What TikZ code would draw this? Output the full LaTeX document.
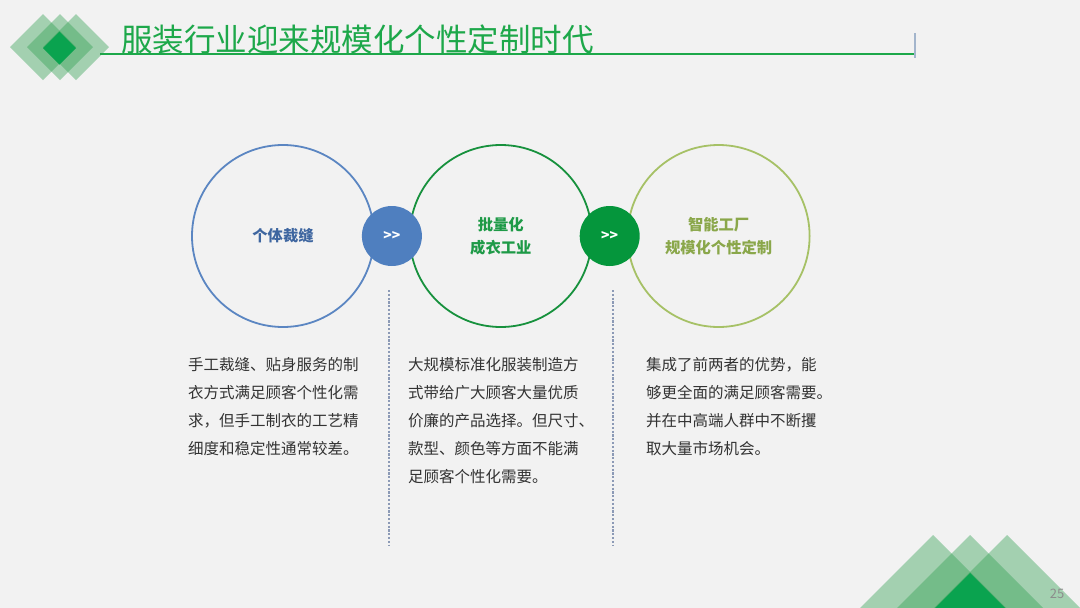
\documentclass[tikz,border=0pt]{standalone}
\usepackage{fontspec}
\setmainfont{Noto Sans CJK SC}
\usetikzlibrary{positioning,calc}

\definecolor{bgGray}{HTML}{F2F2F2}
\definecolor{titleGreen}{HTML}{1DA84A}
\definecolor{leafGreen}{HTML}{2E9E4F}
\definecolor{leafSolid}{HTML}{0AA34F}
\definecolor{barBlue}{HTML}{A3B5CC}
\definecolor{ringBlue}{HTML}{5B86C2}
\definecolor{ringGreen}{HTML}{17913D}
\definecolor{ringOlive}{HTML}{A6C166}
\definecolor{dotBlue}{HTML}{4F7FBF}
\definecolor{dotGreen}{HTML}{05963C}
\definecolor{labelBlue}{HTML}{3E66A0}
\definecolor{labelGreen}{HTML}{1E9A47}
\definecolor{labelOlive}{HTML}{8AA74A}
\definecolor{bodyGray}{HTML}{333333}
\definecolor{dashGray}{HTML}{8C9AB6}
\definecolor{pageGray}{HTML}{8C8C8C}

\tikzset{
  bigring/.style={circle, minimum size=182pt, inner sep=0pt, line width=1.8pt,
    align=center, font=\bfseries\fontsize{15.3}{23}\selectfont},
  stepdot/.style={circle, minimum size=60pt, inner sep=0pt, text=white,
    font=\bfseries\fontsize{14}{14}\selectfont},
  bodytext/.style={anchor=north west, align=left, inner sep=0pt, text=bodyGray,
    font=\fontsize{15.5}{28}\selectfont},
  leaf/.style={fill=leafGreen, fill opacity=0.4},
  sepline/.style={dashGray, line width=1.1pt, dash pattern=on 2.2pt off 1.6pt}
}

\begin{document}
\begin{tikzpicture}[x=1pt, y=-1pt]
    \useasboundingbox[fill=bgGray] (0,0) rectangle (1080,608);

    % Title rule, behind the diamonds
    \draw[titleGreen, line width=1.3pt] (100,54) -- (915,54);
    \draw[barBlue, line width=2.2pt] (915,33) -- (915,58);

    % Corner diamonds
    \foreach \cx in {43,60,76}
        \fill[leaf] (\cx-33,47) -- (\cx,14) -- (\cx+33,47) -- (\cx,80) -- cycle;
    \fill[leafSolid] (43,48) -- (59.5,31.5) -- (76,48) -- (59.5,64.5) -- cycle;

    % Title
    \node[anchor=west, inner sep=0pt, text=titleGreen, font=\fontsize{31.5}{31.5}\selectfont]
        (title) at (121,39) {服装行业迎来规模化个性定制时代};

    % Rings
    \node[bigring, draw=ringBlue, text=labelBlue] (craft) at (283,236) {个体裁缝};
    \node[bigring, draw=ringGreen, text=labelGreen, right=34pt of craft] (mass) {批量化\\成衣工业};
    \node[bigring, draw=ringOlive, text=labelOlive, right=34pt of mass] (smart) {智能工厂\\规模化个性定制};

    % Step dots
    \node[stepdot, fill=dotBlue] (stepA) at ($(craft)!0.5!(mass)$) {>{}>};
    \node[stepdot, fill=dotGreen] (stepB) at ($(mass)!0.5!(smart)$) {>{}>};

    % Separators
    \draw[sepline] (389,290) -- (389,546);
    \draw[sepline] (613,290) -- (613,546);

    % Texts
    \node[bodytext] (craftText) at (188,357)
        {手工裁缝、贴身服务的制\\衣方式满足顾客个性化需\\求，但手工制衣的工艺精\\细度和稳定性通常较差。};
    \node[bodytext] (massText) at (408,357)
        {大规模标准化服装制造方\\式带给广大顾客大量优质\\价廉的产品选择。但尺寸、\\款型、颜色等方面不能满\\足顾客个性化需要。};
    \node[bodytext] (smartText) at (646,357)
        {集成了前两者的优势，能\\够更全面的满足顾客需要。\\并在中高端人群中不断攫\\取大量市场机会。};

    % Corner triangles
    \foreach \ax in {933,970,1007}
        \fill[leaf] (\ax-74,609) -- (\ax,535) -- (\ax+74,609) -- cycle;
    \fill[leafSolid] (934,609) -- (970,573) -- (1006,609) -- cycle;

    \node[text=pageGray, font=\fontsize{13}{13}\selectfont] (pageNum) at (1057,594) {25};
\end{tikzpicture}
\end{document}
